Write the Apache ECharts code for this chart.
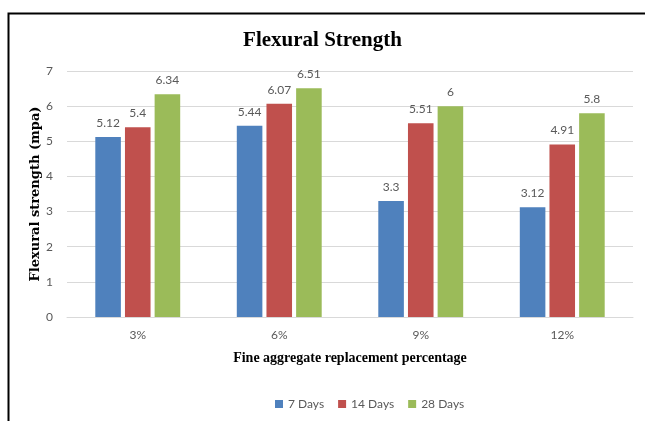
<!DOCTYPE html>
<html><head><meta charset="utf-8">
<script src="https://cdn.jsdelivr.net/npm/echarts@6/dist/echarts.min.js"></script>
<style>html,body{margin:0;padding:0;background:#fff}#c{width:645px;height:421px}</style>
</head><body><div id="c"></div>
<script>
const categories = ['3%', '6%', '9%', '12%'];
const seriesNames = ['7 Days', '14 Days', '28 Days'];
const days7 = [5.12, 5.44, 3.3, 3.12];
const days14 = [5.4, 6.07, 5.51, 4.91];
const days28 = [6.34, 6.51, 6, 5.8];
const yTicks = [0, 1, 2, 3, 4, 5, 6, 7];
const colors = ['#4F81BD', '#C0504D', '#9BBB59'];

const chart = echarts.init(document.getElementById('c'));
const lblFont = 'Lato';
const mk = (name, data, color) => ({
  name, type: 'bar', data,
  itemStyle: { color },
  barGap: '16%', barCategoryGap: '40%',
  label: { show: true, position: 'top', distance: 8, color: '#595959', fontSize: 12, fontFamily: lblFont }
});
chart.setOption({
  animation: false,
  title: {
    text: 'Flexural Strength', left: 'center', top: 25,
    textStyle: { fontFamily: 'Liberation Serif', fontWeight: 'bold', fontSize: 21, color: '#000' }
  },
  legend: {
    data: seriesNames, left: 270, top: 393, icon: 'rect', itemWidth: 8, itemHeight: 8, itemGap: 14,
    textStyle: { color: '#595959', fontSize: 12, fontFamily: lblFont }
  },
  grid: { left: 67, right: 12, top: 71, bottom: 104 },
  xAxis: {
    type: 'category', data: categories,
    name: 'Fine aggregate replacement percentage', nameLocation: 'middle', nameGap: 34, nameMoveOverlap: false,
    nameTextStyle: { fontFamily: 'Liberation Serif', fontWeight: 'bold', fontSize: 14, color: '#000' },
    axisTick: { show: false },
    axisLine: { lineStyle: { color: '#d9d9d9' } },
    axisLabel: { color: '#595959', fontSize: 12, fontFamily: lblFont, margin: 12 }
  },
  yAxis: {
    type: 'value', min: yTicks[0], max: yTicks[yTicks.length - 1], interval: 1,
    name: 'Flexural strength (mpa)', nameLocation: 'middle', nameGap: 25, nameMoveOverlap: false,
    nameTextStyle: { fontFamily: 'DejaVu Serif', fontWeight: 'bold', fontSize: 13, color: '#000' },
    axisLine: { show: false }, axisTick: { show: false },
    axisLabel: { color: '#595959', fontSize: 12, fontFamily: lblFont, margin: 14 },
    splitLine: { lineStyle: { color: '#d9d9d9' } }
  },
  graphic: [{
    type: 'rect', left: 6, top: 11, shape: { width: 700, height: 500 },
    style: { fill: 'none', stroke: '#000', lineWidth: 2 }, silent: true
  }],
  series: [mk(seriesNames[0], days7, colors[0]), mk(seriesNames[1], days14, colors[1]), mk(seriesNames[2], days28, colors[2])]
});
</script></body></html>
